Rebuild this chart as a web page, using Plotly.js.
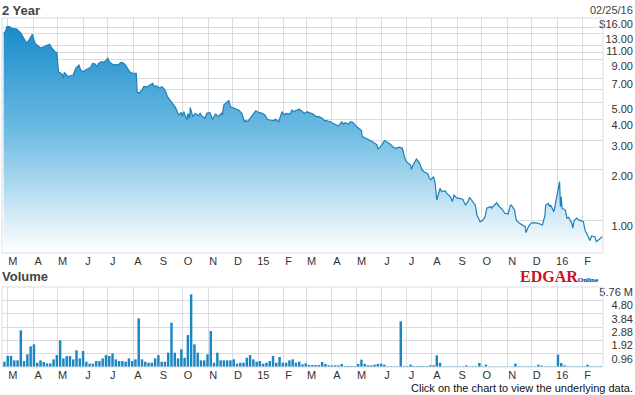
<!DOCTYPE html>
<html><head><meta charset="utf-8">
<script src="https://cdn.plot.ly/plotly-3.0.1.min.js"></script>
<style>html,body{margin:0;padding:0;background:#fff;}#chart{width:635px;height:395px;}</style>
</head><body><div id="chart"></div>
<script>
const priceDates = ['2014-02-24','2014-02-26','2014-02-28','2014-03-03','2014-03-06','2014-03-10','2014-03-12','2014-03-17','2014-03-20','2014-03-24','2014-03-27','2014-03-31','2014-04-02','2014-04-04','2014-04-07','2014-04-10','2014-04-14','2014-04-17','2014-04-21','2014-04-24','2014-04-28','2014-04-30','2014-05-01','2014-05-02','2014-05-06','2014-05-08','2014-05-09','2014-05-12','2014-05-14','2014-05-16','2014-05-20','2014-05-23','2014-05-27','2014-05-29','2014-06-02','2014-06-04','2014-06-06','2014-06-10','2014-06-13','2014-06-16','2014-06-18','2014-06-20','2014-06-24','2014-06-26','2014-06-30','2014-07-01','2014-07-03','2014-07-08','2014-07-10','2014-07-14','2014-07-16','2014-07-18','2014-07-22','2014-07-25','2014-07-28','2014-07-31','2014-08-05','2014-08-06','2014-08-08','2014-08-12','2014-08-14','2014-08-18','2014-08-21','2014-08-25','2014-08-27','2014-08-29','2014-09-03','2014-09-05','2014-09-08','2014-09-10','2014-09-12','2014-09-15','2014-09-17','2014-09-19','2014-09-22','2014-09-24','2014-09-26','2014-09-29','2014-09-30','2014-10-02','2014-10-06','2014-10-07','2014-10-09','2014-10-10','2014-10-13','2014-10-16','2014-10-20','2014-10-22','2014-10-24','2014-10-28','2014-10-30','2014-11-03','2014-11-06','2014-11-10','2014-11-13','2014-11-17','2014-11-18','2014-11-20','2014-11-24','2014-11-26','2014-11-28','2014-12-02','2014-12-05','2014-12-08','2014-12-10','2014-12-12','2014-12-15','2014-12-17','2014-12-19','2014-12-23','2014-12-26','2014-12-29','2015-01-02','2015-01-06','2015-01-09','2015-01-12','2015-01-15','2015-01-20','2015-01-22','2015-01-26','2015-01-28','2015-01-30','2015-02-02','2015-02-04','2015-02-09','2015-02-11','2015-02-13','2015-02-17','2015-02-20','2015-02-24','2015-02-26','2015-03-02','2015-03-04','2015-03-09','2015-03-10','2015-03-13','2015-03-16','2015-03-20','2015-03-23','2015-03-25','2015-03-30','2015-04-02','2015-04-07','2015-04-09','2015-04-13','2015-04-15','2015-04-17','2015-04-21','2015-04-24','2015-04-27','2015-05-01','2015-05-04','2015-05-07','2015-05-08','2015-05-12','2015-05-15','2015-05-20','2015-05-26','2015-05-27','2015-06-01','2015-06-04','2015-06-08','2015-06-10','2015-06-15','2015-06-18','2015-06-22','2015-06-26','2015-06-29','2015-07-01','2015-07-06','2015-07-07','2015-07-09','2015-07-13','2015-07-14','2015-07-17','2015-07-20','2015-07-22','2015-07-27','2015-07-29','2015-07-31','2015-08-03','2015-08-05','2015-08-06','2015-08-07','2015-08-11','2015-08-13','2015-08-17','2015-08-19','2015-08-24','2015-08-26','2015-08-28','2015-09-01','2015-09-04','2015-09-08','2015-09-11','2015-09-14','2015-09-16','2015-09-18','2015-09-21','2015-09-23','2015-09-25','2015-09-29','2015-10-02','2015-10-05','2015-10-07','2015-10-12','2015-10-13','2015-10-16','2015-10-19','2015-10-23','2015-10-26','2015-10-29','2015-11-02','2015-11-05','2015-11-06','2015-11-10','2015-11-12','2015-11-16','2015-11-19','2015-11-23','2015-11-24','2015-11-27','2015-11-30','2015-12-03','2015-12-08','2015-12-11','2015-12-14','2015-12-17','2015-12-18','2015-12-21','2015-12-23','2015-12-24','2015-12-28','2015-12-30','2015-12-31','2016-01-04','2016-01-05','2016-01-06','2016-01-07','2016-01-11','2016-01-13','2016-01-15','2016-01-19','2016-01-20','2016-01-22','2016-01-25','2016-01-28','2016-01-29','2016-02-02','2016-02-04','2016-02-08','2016-02-10','2016-02-12','2016-02-16','2016-02-18','2016-02-22','2016-02-25'];
const priceValues = [12.97,13.26,14.2,14.2,13.89,13.8,13.76,13.0,12.17,11.36,11.83,12.8,11.83,11.2,10.94,10.6,10.79,10.94,11.16,10.6,10.04,10.0,8.4,7.66,7.43,7.03,7.6,7.32,7.13,7.25,7.32,8.03,8.4,7.85,7.66,7.85,7.95,8.1,8.6,8.48,8.21,8.6,8.79,8.72,9.0,9.29,8.79,8.4,8.48,8.4,8.6,8.72,8.48,8.03,7.66,7.5,7.5,5.83,5.7,5.96,6.24,6.24,6.39,6.54,6.24,6.33,6.1,6.24,6.05,5.83,5.44,5.2,5.04,4.85,4.68,4.43,4.23,4.39,4.14,4.43,3.95,4.33,4.05,4.68,4.14,4.33,4.19,4.33,4.18,4.05,4.33,4.37,3.99,4.29,4.14,4.33,4.23,4.86,5.01,5.15,4.74,4.64,4.58,4.53,4.43,4.33,3.86,3.92,3.86,4.1,4.33,4.49,4.37,4.33,4.23,3.99,3.95,3.92,3.99,3.86,4.14,4.43,4.23,4.33,4.29,4.53,4.43,4.49,4.58,4.43,4.33,4.43,4.37,4.29,4.23,4.14,4.14,4.05,3.92,3.92,3.86,3.78,3.69,3.64,3.86,3.74,3.81,3.74,3.86,3.81,3.61,3.53,3.42,3.15,3.08,3.03,2.94,2.81,2.65,2.81,2.98,2.9,2.87,2.72,2.68,2.72,2.68,2.34,2.23,2.13,2.01,2.13,2.31,2.29,2.18,1.99,1.95,1.89,1.78,1.74,1.82,1.66,1.41,1.32,1.55,1.48,1.5,1.45,1.37,1.29,1.41,1.35,1.35,1.33,1.23,1.29,1.37,1.33,1.26,1.23,1.075,0.98,0.995,1.05,1.18,1.205,1.18,1.23,1.27,1.195,1.16,1.1,1.09,1.23,1.23,1.15,1.0,0.96,0.937,0.916,0.844,0.916,0.96,0.967,0.96,0.95,0.937,1.06,1.23,1.26,1.205,1.23,1.125,1.26,1.35,1.70,1.205,1.38,1.18,1.15,1.03,1.04,0.96,0.896,1.0,1.03,0.995,1.0,0.98,0.875,0.798,0.756,0.806,0.798,0.746,0.781,0.798];

const volumeStart = '2014-02-25';
const volumeStepDays = 4;
// volume in millions of shares
const volumeValues = [0.38,0.8,0.8,0.48,0.48,2.64,0.43,0.91,1.49,1.63,
0.31,0.48,0.36,0.26,0.26,0.55,0.86,1.92,0.62,0.79,
0.79,0.55,1.2,0.62,1.15,0.38,0.24,0.24,0.43,0.43,
0.62,0.86,0.79,0.98,0.55,0.43,0.43,0.38,0.62,0.43,
0.55,3.5,0.55,0.38,0.31,0.31,0.62,0.86,0.38,0.38,
1.03,3.19,1.03,0.62,1.27,0.67,2.3,5.23,1.63,1.03,
0.48,0.48,0.91,2.59,0.31,1.03,0.48,0.48,0.48,0.48,
0.55,0.24,0.31,0.31,0.67,0.86,0.55,0.38,0.43,0.24,
0.31,0.43,0.79,0.31,0.72,0.31,0.31,0.48,0.55,0.31,
0.38,0.19,0.26,0.14,0.14,0.14,0.14,0.36,0.22,0.12,
0.12,0.12,0.12,0.22,0.07,0.07,0.07,0.07,0.22,0.53,
0.22,0.12,0.12,0.17,0.22,0.24,0.17,0.05,0.05,0.05,
0.05,3.29,0.07,0.07,0.17,0.07,0.07,0.07,0.07,0.07,
0.12,0.12,0.84,0.3,0.05,0.05,0.05,0.05,0.05,0.05,
0.05,0.12,0.05,0.05,0.05,0.29,0.05,0.17,0.03,0.03,
0.03,0.03,0.03,0.03,0.03,0.03,0.24,0.05,0.05,0.05,
0.05,0.05,0.05,0.17,0.1,0.05,0.05,0.05,0.05,0.89,
0.29,0.12,0.05,0.05,0.05,0.05,0.05,0.05,0.17,0.05,
0.05,0.05,0.05];

const monthTicks = ['2014-03-01','2014-04-01','2014-05-01','2014-06-01','2014-07-01','2014-08-01','2014-09-01','2014-10-01','2014-11-01','2014-12-01','2015-01-01','2015-02-01','2015-03-01','2015-04-01','2015-05-01','2015-06-01','2015-07-01','2015-08-01','2015-09-01','2015-10-01','2015-11-01','2015-12-01','2016-01-01','2016-02-01'];
const monthLabels = ['M','A','M','J','J','A','S','O','N','D','15','F','M','A','M','J','J','A','S','O','N','D','16','F'];
const priceTickVals = [16,14,13,11,10,9,7,6,5,4,3,2,1];
const priceTickText = ['$16.00','','13.00','11.00','','9.00','7.00','','5.00','4.00','3.00','2.00','1.00'];
const volTickVals = [0.96,1.92,2.88,3.84,4.80,5.76];
const volTickText = ['0.96','1.92','2.88','3.84','4.80','5.76 M'];

const DAY = 86400000;
const v0 = new Date(volumeStart + 'T00:00:00Z').getTime();
const volumeDates = volumeValues.map((_, i) => new Date(v0 + i * volumeStepDays * DAY).toISOString().slice(0, 10));

const W = 635, H = 395, ML = 2, MR = 2;
const px = x => (x - ML) / (W - ML - MR);
const py = y => 1 - y / H;
const grid = '#d9dde2';
const sans = 'Liberation Sans, Arial, sans-serif';
const narrow = 'Liberation Sans Narrow, Arial Narrow, Liberation Sans, sans-serif';
const xRange = ['2014-02-22', '2016-02-26'];

const xCommon = {
  type: 'date', range: xRange, domain: [0, px(603)],
  tickmode: 'array', tickvals: monthTicks, ticktext: monthLabels,
  ticks: '', showgrid: true, gridcolor: grid, gridwidth: 1,
  zeroline: false, showline: false, ticklabelshift: 5,
  tickfont: {family: sans, size: 11, color: '#333'}, fixedrange: true
};

const traces = [
  {
    type: 'scatter', mode: 'lines', x: priceDates, y: priceValues,
    xaxis: 'x', yaxis: 'y', fill: 'tozeroy',
    line: {color: '#1f80b8', width: 1.2},
    fillgradient: {type: 'vertical', start: 0.64, stop: 16,
      colorscale: [[0, '#ffffff'], [0.1, '#e3f2fa'], [0.28, '#b0daf0'], [0.52, '#6cbbe2'], [1, '#1288c9']]},
    hoverinfo: 'skip'
  },
  {
    type: 'bar', x: volumeDates, y: volumeValues, xaxis: 'x2', yaxis: 'y2',
    width: 3 * DAY, marker: {color: '#1a86c3', line: {width: 0}}, hoverinfo: 'skip'
  }
];

const layout = {
  width: W, height: H, margin: {l: ML, r: MR, t: 0, b: 0},
  paper_bgcolor: '#ffffff', plot_bgcolor: '#ffffff', showlegend: false,
  xaxis: Object.assign({}, xCommon, {anchor: 'y'}),
  xaxis2: Object.assign({}, xCommon, {anchor: 'y2', matches: 'x'}),
  yaxis: {
    type: 'log', domain: [py(253), py(18)], range: [Math.log10(0.638), Math.log10(16)],
    tickmode: 'array', tickvals: priceTickVals, ticktext: priceTickText,
    anchor: 'free', position: 1, side: 'left', ticks: '', showline: false,
    showgrid: true, gridcolor: grid, zeroline: false, ticklabelshift: 6,
    tickfont: {family: narrow, size: 11, color: '#333'}, fixedrange: true
  },
  yaxis2: {
    domain: [py(367), py(287)], range: [0, 5.76],
    tickmode: 'array', tickvals: volTickVals, ticktext: volTickText,
    anchor: 'free', position: 1, side: 'left', ticks: '', showline: false,
    showgrid: true, gridcolor: grid, zeroline: false, ticklabelshift: 5,
    tickfont: {family: narrow, size: 11, color: '#333'}, fixedrange: true
  },
  shapes: [
    {type: 'rect', xref: 'x domain', yref: 'y domain', x0: 0, x1: 1, y0: 0, y1: 1, line: {color: grid, width: 1}},
    {type: 'rect', xref: 'x2 domain', yref: 'y2 domain', x0: 0, x1: 1, y0: 0, y1: 1, line: {color: grid, width: 1}}
  ],
  annotations: [
    {text: '<b>2 Year</b>', xref: 'paper', yref: 'paper', x: px(0), y: py(10), xanchor: 'left', yanchor: 'middle', showarrow: false, font: {family: sans, size: 13, color: '#444'}},
    {text: '<b>Volume</b>', xref: 'paper', yref: 'paper', x: px(0), y: py(276), xanchor: 'left', yanchor: 'middle', showarrow: false, font: {family: sans, size: 13, color: '#444'}},
    {text: '02/25/16', xref: 'paper', yref: 'paper', x: px(635), y: py(10), xanchor: 'right', yanchor: 'middle', showarrow: false, font: {family: sans, size: 11, color: '#444'}},
    {text: '<b><span style="color:#cc1122">EDGAR</span><span style="color:#1b2a6b;font-size:7px">Online</span></b>', xref: 'paper', yref: 'paper', x: px(600), y: py(276), xanchor: 'right', yanchor: 'middle', showarrow: false, font: {family: 'Liberation Serif, Times New Roman, serif', size: 16, color: '#cc1122'}},
    {text: 'Click on the chart to view the underlying data.', xref: 'paper', yref: 'paper', x: px(635), y: py(388), xanchor: 'right', yanchor: 'middle', showarrow: false, font: {family: sans, size: 11, color: '#111'}}
  ]
};

Plotly.newPlot('chart', traces, layout, {staticPlot: true, displayModeBar: false});
</script>
</body></html>
